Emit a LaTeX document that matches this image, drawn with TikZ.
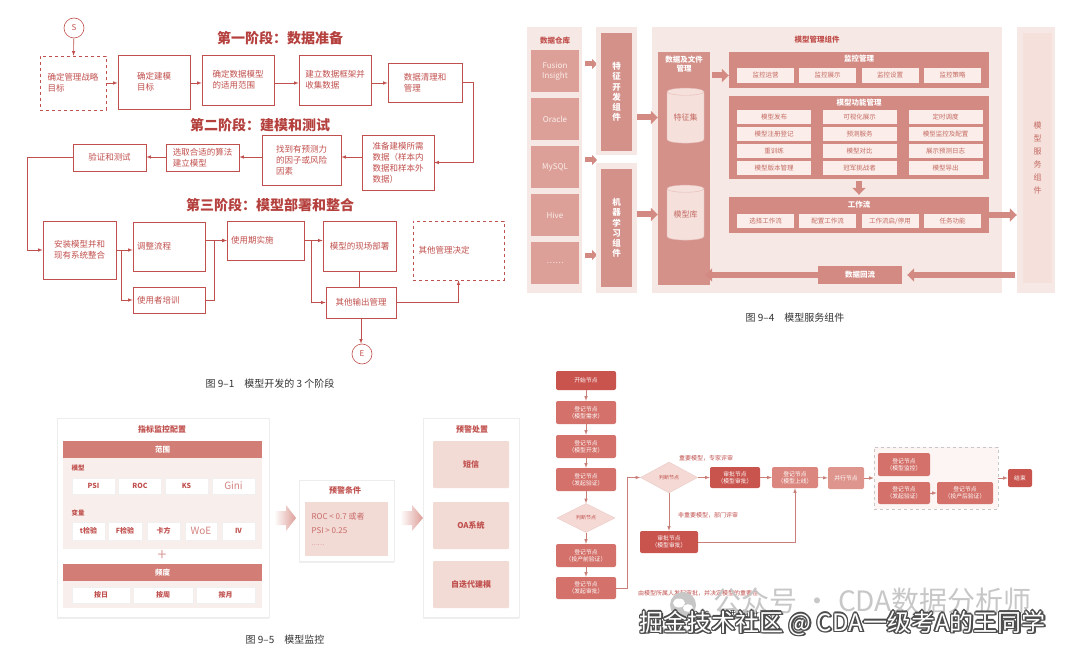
\documentclass[tikz,border=0pt]{standalone}
\usepackage{fontspec}
\setmainfont{Noto Sans CJK SC}
\usetikzlibrary{shapes.geometric,shadows,arrows.meta,calc}
\newcommand{\fsz}[2]{\fontsize{#1}{#2}\selectfont}
\definecolor{rd}{HTML}{C0504D}
\definecolor{rdt}{HTML}{B5413E}
\definecolor{capc}{HTML}{333333}
\definecolor{pkbg}{HTML}{F6E8E4}
\definecolor{pkmid}{HTML}{DCA098}
\definecolor{pkbox}{HTML}{D4918A}
\definecolor{pkdark}{HTML}{D38A82}
\definecolor{pkitem}{HTML}{FBEEEA}
\definecolor{pkcyl}{HTML}{F5E0DB}
\definecolor{pktxt}{HTML}{C46A62}
\definecolor{mbar}{HTML}{D27D75}
\definecolor{mpan}{HTML}{F8EEEC}
\definecolor{mbox}{HTML}{F2DAD5}
\definecolor{fdark}{HTML}{C9534D}
\definecolor{fnode}{HTML}{D4716A}
\definecolor{flight}{HTML}{DB8780}
\definecolor{fpar}{HTML}{DE958D}
\definecolor{fdia}{HTML}{F5D9D4}
\definecolor{fline}{HTML}{C97F78}
\begin{document}
\begin{tikzpicture}[x=1pt, y=-1pt, >=latex,
  box/.style={draw=rd, line width=0.6pt, text=rd, font=\fsz{8.5}{11}, align=left, inner sep=2pt},
  lbox/.style={box, text width=#1},
  circ/.style={circle, draw=rd, line width=0.6pt, text=rd, minimum size=20, inner sep=0, font=\fsz{8}{9}},
  arr/.style={draw=rd, line width=0.6pt, ->},
  ttl/.style={text=rdt, font=\bfseries\fsz{14}{16}},
  capt/.style={text=capc, font=\fsz{10}{12}},
  dwt/.style={text=rd, font=\bfseries\fsz{7.5}{9}},
  dwb/.style={fill=pkmid, text=pkitem, font=\fsz{8}{10}, align=center, minimum width=48, minimum height=42, inner sep=0},
  comp/.style={fill=pkbox, text=white, font=\bfseries\fsz{8.5}{10.2}, align=center, inner sep=0},
  ptl/.style={text=white, font=\bfseries\fsz{7.5}{9}, align=center},
  pan/.style={fill=pkdark, minimum width=260},
  itm/.style={fill=pkitem, text=pktxt, font=\fsz{6.5}{8}, inner sep=0},
  cyl/.style={cylinder, shape border rotate=90, aspect=0.3, draw=pkdark!60, fill=pkcyl, minimum width=37, minimum height=55, text=pktxt, font=\fsz{8}{10}, inner sep=0},
  fat/.style={draw=pkdark, line width=6pt, -{Triangle[width=13pt,length=7pt]}},
  fats/.style={draw=pkdark, line width=5pt, -{Triangle[width=10pt,length=5pt]}},
  card/.style={fill=white, draw=black!7, drop shadow={opacity=0.12, shadow xshift=0pt, shadow yshift=-1.5pt}},
  bar/.style={fill=mbar, text=white, font=\bfseries\fsz{7.5}{9}, minimum width=199, minimum height=17},
  chip/.style={fill=white, draw=black!6, text=rd, font=\bfseries\fsz{7}{8}, inner sep=0},
  lchip/.style={chip, text=rd!70, font=\fsz{10}{11}},
  fn/.style={rounded corners=2pt, fill=fnode, text=white, font=\fsz{5.8}{7}, align=center, inner sep=0},
  dia/.style={diamond, aspect=2, fill=fdia, draw=fline!40, text=rd, font=\fsz{5}{6}, inner sep=0},
  fa/.style={draw=fline, line width=0.6pt, ->},
  lbl/.style={text=rd, font=\fsz{6}{7}},
  wmk/.style={font=\fsz{24}{27}, anchor=west}]
\fill[white] (0,0) rectangle (1080,658);
\useasboundingbox (0,0) rectangle (1080,658);

% 模型开发的3个阶段
\node[ttl] (t1) at (280,38) {第一阶段：数据准备};
\node[circ] (S) at (74,28) {S};
\node[box, dashed, minimum width=66, minimum height=54] (b1) at (73,83) {确定管理战略\\目标};
\node[box, minimum width=72, minimum height=54] (b2) at (154,82) {确定建模\\目标};
\node[box, minimum width=72, minimum height=50] (b3) at (238,80) {确定数据模型\\的适用范围};
\node[box, minimum width=72, minimum height=50] (b4) at (335,80) {建立数据框架并\\收集数据};
\node[box, minimum width=74, minimum height=39] (b5) at (425,82.5) {数据清理和\\管理};
\coordinate (r1) at (0,83);
\draw[arr] (S) -- (b1);
\foreach \a/\b in {b1/b2,b2/b3,b3/b4,b4/b5}
  \draw[arr] (\a.east |- r1) -- (\b.west |- r1);
\node[ttl] (t2) at (260,125) {第二阶段：建模和测试};
\node[box, minimum width=72, minimum height=55] (b6) at (398,162.5) {准备建模所需\\数据（样本内\\数据和样本外\\数据）};
\node[box, minimum width=79, minimum height=50] (b7) at (301.5,160) {找到有预测力\\的因子或风险\\因素};
\node[box, minimum width=73, minimum height=27] (b8) at (202.5,157.5) {选取合适的算法\\建立模型};
\node[box, minimum width=73, minimum height=27] (b9) at (109.5,157.5) {验证和测试};
\coordinate (r2) at (0,157);
\draw[arr] (b5.east) -- ++(11,0) |- (b6.east);
\draw[arr] (b6.west |- r2) -- (b7.east |- r2);
\draw[arr] (b7.west |- r2) -- (b8.east |- r2);
\draw[arr] (b8.west |- r2) -- (b9.east |- r2);
\node[ttl] (t3) at (270,205) {第三阶段：模型部署和整合};
\node[box, minimum width=73, minimum height=58] (b10) at (79.5,250) {安装模型并和\\现有系统整合};
\node[lbox=64, minimum width=72, minimum height=49] (b11) at (169,246.5) {调整流程};
\node[lbox=64, minimum width=72, minimum height=26] (b12) at (169,300) {使用者培训};
\node[lbox=69, minimum width=77, minimum height=39] (b13) at (265.5,240.5) {使用期实施};
\node[box, minimum width=73, minimum height=50] (b14) at (359.5,246) {模型的现场部署};
\node[box, minimum width=70, minimum height=31] (b15) at (361,302.5) {其他输出管理};
\node[lbox=80, dashed, minimum width=91, minimum height=59] (b16) at (458.5,250.5) {其他管理决定};
\node[circ] (E) at (362,354) {E};
\draw[arr] (b9.west) -- ++(-45,0) |- (b10.west);
\draw[arr] (b10.east) -- (b10.east -| b11.west);
\draw[arr] (b10.east) -- ++(5,0) |- (b12.west);
\draw[arr] (b11.east |- b13.west) -- (b13.west);
\draw[arr] (b12.east) -- ++(9,0) |- (b13.west);
\draw[arr] (b13.east) -- (b13.east -| b14.west);
\draw[arr] (b13.east) -- ++(7,0) |- (b15.west);
\draw[rd, line width=0.6pt] (b14.south) -- (b14.south |- b15.north);
\draw[arr] (b15.east) -| (b16.south);
\draw[arr] (b15.south) -- (b15.south |- E.north);
\node[capt] (c1) at (270,384) {图 9–1　模型开发的 3 个阶段};

% 模型服务组件
\fill[pkbg] (527,27) rectangle (582,293);
\node[dwt] (dwt) at (555,41) {数据仓库};
\foreach \t/\y [count=\k] in {{Fusion\\Insight}/71.5, Oracle/119, MySQL/167, Hive/215, ……/263}
  \node[dwb] (dw\k) at (555,\y) {\t};
\foreach \y [count=\k] in {64,160,255} {
  \coordinate (sa\k) at (585,\y);
  \coordinate (sb\k) at (597,\y);
  \draw[fats] (sa\k) -- (sb\k);
}
\fill[pkbg] (596,27) rectangle (637,155);
\fill[pkbg] (596,163) rectangle (637,293);
\node[comp, minimum width=31, minimum height=118] (fe) at (616.5,92) {特\\征\\开\\发\\组\\件};
\node[comp, minimum width=31, minimum height=118] (ml) at (616.5,228) {机\\器\\学\\习\\组\\件};
\fill[pkbg] (652,27) rectangle (1002,293);
\node[dwt] (mgt) at (817,40) {模型管理组件};
\node[comp, minimum width=52, minimum height=233] (dfm) at (684,168.5) {};
\node[ptl] (dft) at (684,64) {数据及文件\\管理};
\node[cyl] (fs) at (685.5,117.5) {特征集};
\node[cyl] (mk) at (685.5,214.5) {模型库};
\draw[fat, shorten <=5pt] (fe.east |- fs) -- (dfm.west |- fs);
\draw[fat, shorten <=5pt] (ml.east |- mk) -- (dfm.west |- mk);
\node[pan, minimum height=36] (mon) at (859,70) {};
\node[ptl] (mont) at (859,59) {监控管理};
\foreach \t/\x [count=\k] in {监控运营/765.5, 监控展示/827.5, 监控设置/890, 监控策略/952.5}
  \node[itm, minimum width=57, minimum height=15] (m\k) at (\x,75.5) {\t};
\draw[fat, shorten <=2pt] (dfm.east |- m1) -- (mon.west |- m1);
\node[pan, minimum height=83] (fun) at (859,137.5) {};
\node[ptl] (funt) at (859,103) {模型功能管理};
\foreach \t/\x/\y [count=\k] in {模型发布/774/117, 可视化展示/859.5/117, 定时调度/945.5/117,
    模型注册登记/774/134.5, 预测服务/859.5/134.5, 模型监控及配置/945.5/134.5,
    重训练/774/151, 模型对比/859.5/151, 展示预测日志/945.5/151,
    模型版本管理/774/168, 冠军挑战者/859.5/168, 模型导出/945.5/168}
  \node[itm, minimum width=74, minimum height=14] (f\k) at (\x,\y) {\t};
\node[pan, minimum height=36] (wf) at (859,215) {};
\node[ptl] (wft) at (859,205) {工作流};
\foreach \t/\x [count=\k] in {选择工作流/765.5, 配置工作流/827.5, {工作流启/停用}/890, 任务功能/952.5}
  \node[itm, minimum width=57, minimum height=14] (w\k) at (\x,221) {\t};
\draw[fat, shorten <=2pt, shorten >=2pt] (fun.south) -- (wf.north);
\node[fill=pkbg, minimum width=38, minimum height=266] (svb) at (1036,160) {};
\node[fill=pkcyl, text=pktxt, align=center, font=\fsz{8}{13}, minimum width=29, minimum height=250] (svc) at (1037.5,158) {模\\型\\服\\务\\组\\件};
\draw[fat] (wf.east) -- (svb.west |- wf);
\node[fill=pkdark, text=white, font=\bfseries\fsz{7.5}{9}, minimum width=84, minimum height=18] (back) at (860,275) {数据回流};
\draw[fat, shorten <=2pt, shorten >=5pt] (svb.west |- back) -- (back.east);
\draw[fat, shorten >=-5pt] (back.west) -- (dfm.east |- back);
\node[capt] (c2) at (795,318) {图 9–4　模型服务组件};

% 模型监控
\node[card, minimum width=212, minimum height=199] (p1) at (163,517.5) {};
\node[dwt, font=\bfseries\fsz{8}{9}] (p1t) at (162,429) {指标监控配置};
\node[bar] (h1) at (162.5,449.5) {范围};
\node[fill=mpan, minimum width=199, minimum height=91] (lp1) at (162.5,503.5) {};
\node[dwt, font=\bfseries\fsz{6.5}{8}, anchor=west] (lm) at (68,468) {模型};
\foreach \t/\x [count=\k] in {PSI/93.5, ROC/140, KS/186.5}
  \node[chip, minimum width=43, minimum height=16] (k\k) at (\x,486) {\t};
\node[lchip, minimum width=43, minimum height=16] (k4) at (233.5,486) {Gini};
\node[dwt, font=\bfseries\fsz{6.5}{8}, anchor=west] (lv) at (68,513) {变量};
\foreach \t/\x/\w [count=\k] in {\textit{t}检验/88.5/33, \textit{F}检验/125/34, 卡方/163.5/33, IV/238.5/33}
  \node[chip, minimum width=\w, minimum height=18] (v\k) at (\x,531) {\t};
\node[lchip, minimum width=32, minimum height=18] (v5) at (201,531) {WoE};
\node[text=rd!55, font=\fsz{16}{16}] (plus) at (162,556) {+};
\node[bar] (h2) at (162.5,572.5) {频度};
\node[fill=mpan, minimum width=199, minimum height=27] (lp2) at (162.5,594.5) {};
\foreach \t/\x/\w [count=\k] in {按日/101/58, 按周/163/60, 按月/225.5/59}
  \node[chip, minimum width=\w, minimum height=16] (q\k) at (\x,595) {\t};
\shade[left color=white, right color=mbar!75] (274,511) -- (286,511) -- (286,505) -- (296,518) -- (286,531) -- (286,525) -- (274,525) -- cycle;
\node[card, minimum width=95, minimum height=81] (p2) at (346.5,520.5) {};
\node[dwt, font=\bfseries\fsz{8}{9}] (p2t) at (345,490) {预警条件};
\node[fill=mbox, minimum width=83, minimum height=54] (cond) at (346.5,529) {};
\node[text=rd!85, font=\fsz{8}{9}, anchor=west] (c1a) at (308,516) {ROC < 0.7 或者};
\node[text=rd!85, font=\fsz{8}{9}, anchor=west] (c1b) at (308,531) {PSI > 0.25};
\node[text=rd!85, font=\fsz{6}{7}, anchor=west] (c1c) at (308,545) {……};
\shade[left color=white, right color=mbar!75] (400,511) -- (412,511) -- (412,505) -- (423,518) -- (412,531) -- (412,525) -- (400,525) -- cycle;
\node[card, minimum width=96, minimum height=199] (p3) at (471,517.5) {};
\node[dwt, font=\bfseries\fsz{8}{9}] (p3t) at (472,429) {预警处置};
\foreach \t/\y [count=\k] in {短信/464.5, OA系统/525.5, 自迭代建模/584.5}
  \node[fill=mbox, rounded corners=1pt, text=rd, font=\bfseries\fsz{8}{9}, minimum width=76, minimum height=47] (y\k) at (471,\y) {\t};
\node[capt] (c3) at (285,640) {图 9–5　模型监控};

% 模型审批流程
\node[fn, fill=fdark, minimum width=60, minimum height=19] (s0) at (586,380.5) {开始节点};
\node[fn, minimum width=60, minimum height=23] (r1) at (586,412.5) {登记节点\\（模型需求）};
\node[fn, minimum width=60, minimum height=23] (r2) at (586,446.5) {登记节点\\（模型开发）};
\node[fn, minimum width=60, minimum height=23] (r3) at (586,479.5) {登记节点\\（发起验证）};
\node[dia, minimum width=58, minimum height=29] (d1) at (586,518) {判断节点};
\node[fn, minimum width=60, minimum height=23] (r4) at (586,555.5) {登记节点\\（投产前验证）};
\node[fn, minimum width=60, minimum height=22] (r5) at (586,588) {登记节点\\（发起审批）};
\foreach \a/\b in {s0/r1,r1/r2,r2/r3,r3/d1,d1/r4,r4/r5}
  \draw[fa] (\a) -- (\b);
\node[dia, minimum width=57, minimum height=31] (d2) at (669,477.5) {判断节点};
\node[fn, fill=fdark, minimum width=50, minimum height=21] (a1) at (735,477.5) {审批节点\\（模型审批）};
\node[fn, fill=flight, minimum width=46, minimum height=21] (on) at (795,477.5) {登记节点\\（模型上线）};
\node[fn, fill=fdark, minimum width=58, minimum height=22] (a2) at (669,542) {审批节点\\（模型审批）};
\node[fn, fill=fpar, minimum width=36, minimum height=22] (par) at (846,478) {并行节点};
\node[draw=black!22, dashed, fill=fdia!25, minimum width=124, minimum height=62] (grp) at (936,478) {};
\node[fn, minimum width=52, minimum height=23] (g1) at (904,464.5) {登记节点\\（模型监控）};
\node[fn, minimum width=52, minimum height=22] (g2) at (904,493) {登记节点\\（发起验证）};
\node[fn, minimum width=56, minimum height=22] (g3) at (965,493) {登记节点\\（投产后验证）};
\node[fn, fill=fdark, minimum width=24, minimum height=18] (end) at (1020,478) {结束};
\draw[fa] (r5.east) -- ++(11,0) |- (d2.west);
\draw[fa] (d2.east) -- (a1.west);
\draw[fa] (a1.east) -- (on.west);
\draw[fa] (d2.south) -- (a2.north);
\draw[fa] (a2.east) -| (on.south);
\draw[fa] (on.east) -- (par.west);
\draw[fa] (par.east) -- (grp.west);
\draw[fa] (g2.east) -- (g3.west);
\draw[fa] (grp.east) -- (end.west);
\node[lbl] (l1) at (706,458) {重要模型，专家评审};
\node[lbl] (l2) at (708,515) {非重要模型，部门评审};
\node[lbl] (l3) at (698,593) {由模型所属人发起审批，并决定模型的重要性};
\node[capt, anchor=east] (c4) at (783,615) {图 9–6　模型审批流程};

% 水印
\fill[black!22] (683,605) circle (13);
\fill[white] (679,603) ellipse (6 and 4.5);
\fill[white] (688,608) ellipse (5 and 3.8);
\node[wmk, text=black!22, font=\fsz{28}{30}] (wm1) at (710,601) {公众号 · CDA数据分析师};
\coordinate (wmp) at (636,623);
\foreach \dx/\dy [count=\k] in {-1/-1,-1/1,1/-1,1/1,-1.3/0,1.3/0,0/-1.3,0/1.3,1.5/1.8}
  \node[wmk, text=black!70] (wmo\k) at ($(wmp)+(\dx,\dy)$) {掘金技术社区 @ CDA一级考A的王同学};
\node[wmk, text=white] (wm2) at (wmp) {掘金技术社区 @ CDA一级考A的王同学};
\end{tikzpicture}
\end{document}
